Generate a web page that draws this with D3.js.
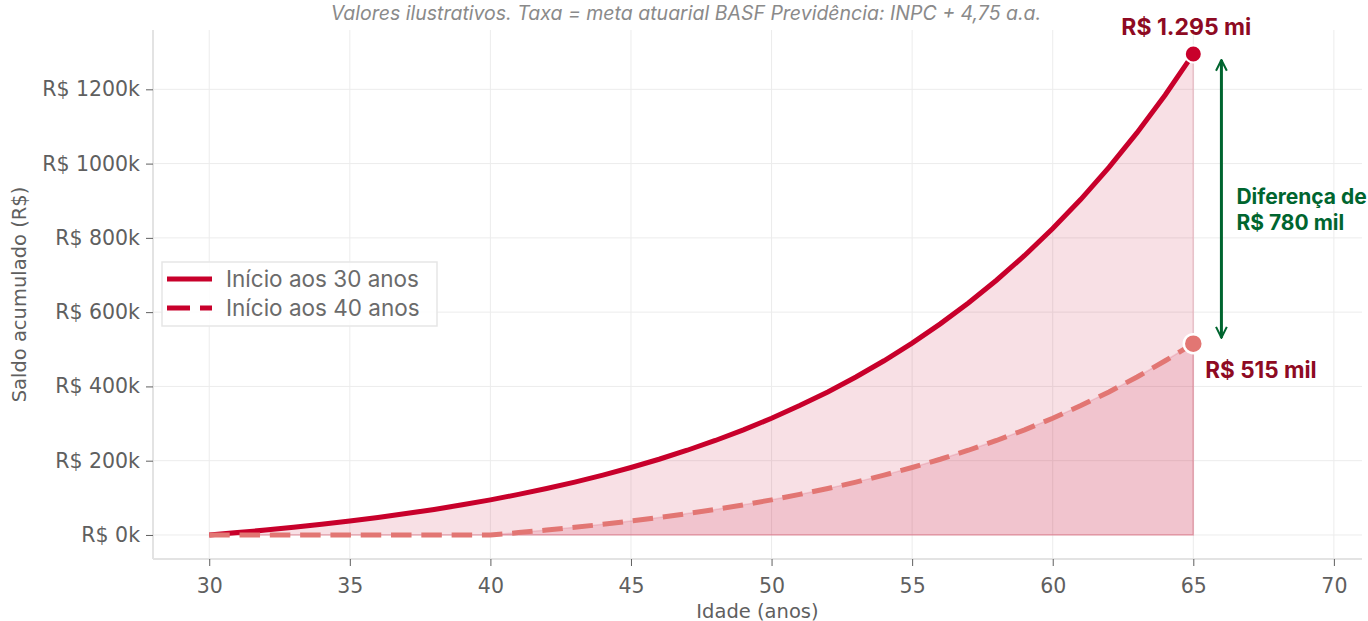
<!DOCTYPE html>
<html>
<head>
<meta charset="utf-8">
<script src="https://cdn.jsdelivr.net/npm/d3@7"></script>
<style>
  body { margin: 0; background: #fff; }
  svg { display: block; }
  .tick text { font-family: "DejaVu Sans", sans-serif; font-size: 20.5px; fill: #5f5f5f; }
  .tick line { stroke: #5f5f5f; }
</style>
</head>
<body>
<svg id="chart"></svg>
<script>
// idade (anos)
const ages = d3.range(30, 66);
// saldo acumulado em R$ mil, início aos 30
const saldo30 = [0, 6.3, 13.1, 20.6, 28.6, 37.5, 47.0, 57.5, 68.8, 81.1, 94.5, 109.2, 125.0, 142.3,
  161.1, 181.6, 203.9, 228.1, 254.4, 283.1, 314.3, 348.3, 385.2, 425.4, 469.1, 516.6, 568.4, 624.7,
  685.9, 752.6, 825.1, 903.9, 989.8, 1083.2, 1184.8, 1295.3];
// saldo acumulado em R$ mil, início aos 40
const saldo40 = [0, 0, 0, 0, 0, 0, 0, 0, 0, 0, 0, 6.3, 13.1, 20.6, 28.6, 37.5, 47.0, 57.5, 68.8, 81.1,
  94.5, 109.2, 125.0, 142.3, 161.1, 181.6, 203.9, 228.1, 254.4, 283.1, 314.3, 348.3, 385.2, 425.4,
  469.1, 515.0];
const xTicks = [30, 35, 40, 45, 50, 55, 60, 65, 70];
const yTicks = [0, 200, 400, 600, 800, 1000, 1200];
const seriesNames = ["Início aos 30 anos", "Início aos 40 anos"];

const W = 1368, H = 621;
const margin = { top: 30, right: 6, bottom: 62, left: 153 };
const width = W - margin.left - margin.right;
const height = H - margin.top - margin.bottom;

const red = "#c8002b", salmon = "#e27673", darkRed = "#8e0a23", green = "#00652f";

const svg = d3.select("#chart").attr("width", W).attr("height", H);
const chart = svg.append("g").attr("transform", `translate(${margin.left}, ${margin.top})`);

const x = d3.scaleLinear().domain([28, 71]).range([0, width]);
const y = d3.scaleLinear().domain([-64.75, 1359.75]).range([height, 0]);

const data = ages.map((a, i) => ({ age: a, s30: saldo30[i], s40: saldo40[i] }));

// grid
chart.append("g").selectAll("line").data(xTicks).enter().append("line")
  .attr("x1", d => x(d)).attr("x2", d => x(d)).attr("y1", 0).attr("y2", height)
  .attr("stroke", "#ececec").attr("stroke-width", 1);
chart.append("g").selectAll("line").data(yTicks).enter().append("line")
  .attr("x1", 0).attr("x2", width).attr("y1", d => y(d)).attr("y2", d => y(d))
  .attr("stroke", "#ececec").attr("stroke-width", 1);

// fills
const area30 = d3.area().x(d => x(d.age)).y0(y(0)).y1(d => y(d.s30));
const area40 = d3.area().x(d => x(d.age)).y0(y(0)).y1(d => y(d.s40));
chart.append("path").datum(data).attr("d", area30)
  .attr("fill", red).attr("fill-opacity", 0.12)
  .attr("stroke", red).attr("stroke-opacity", 0.15).attr("stroke-width", 1.5);
chart.append("path").datum(data).attr("d", area40)
  .attr("fill", red).attr("fill-opacity", 0.12)
  .attr("stroke", red).attr("stroke-opacity", 0.12).attr("stroke-width", 1.5);

// lines
const line30 = d3.line().x(d => x(d.age)).y(d => y(d.s30));
const line40 = d3.line().x(d => x(d.age)).y(d => y(d.s40));
chart.append("path").datum(data).attr("d", line30)
  .attr("fill", "none").attr("stroke", red).attr("stroke-width", 5);
chart.append("path").datum(data).attr("d", line40)
  .attr("fill", "none").attr("stroke", salmon).attr("stroke-width", 5)
  .attr("stroke-dasharray", "20.5,9.8");

// axes
const xAxis = d3.axisBottom(x).tickValues(xTicks).tickSize(7).tickPadding(12);
const yAxis = d3.axisLeft(y).tickValues(yTicks).tickSize(7).tickPadding(6)
  .tickFormat(d => `R$ ${d}k`);
const gx = chart.append("g").attr("transform", `translate(0, ${height})`).call(xAxis);
const gy = chart.append("g").call(yAxis);
[gx, gy].forEach(g => {
  g.select(".domain").attr("stroke", "#e3e3e3").attr("stroke-width", 2);
});
gy.select(".domain").attr("d", `M0,${height}V0`);
gx.select(".domain").attr("d", `M0,0H${width}`);

// end markers
const last = data[data.length - 1];
chart.append("circle").attr("cx", x(last.age)).attr("cy", y(last.s30)).attr("r", 8.5)
  .attr("fill", red).attr("stroke", "#fff").attr("stroke-width", 2);
chart.append("circle").attr("cx", x(last.age)).attr("cy", y(last.s40)).attr("r", 9.5)
  .attr("fill", salmon).attr("stroke", "#fff").attr("stroke-width", 2.5);

chart.append("text").attr("x", x(last.age) - 7).attr("y", y(last.s30) - 19)
  .attr("text-anchor", "middle")
  .style("font-family", "Inter, sans-serif").style("font-weight", 700).style("font-size", "23px")
  .attr("fill", darkRed).text("R$ 1.295 mi");
chart.append("text").attr("x", x(last.age) + 12).attr("y", y(last.s40) + 34)
  .style("font-family", "Inter, sans-serif").style("font-weight", 700).style("font-size", "22.5px")
  .attr("fill", darkRed).text("R$ 515 mil");

// difference arrow
const ax = x(66);
const defs = svg.append("defs");
defs.append("marker").attr("id", "head").attr("viewBox", "0 0 10 10")
  .attr("refX", 9).attr("refY", 5).attr("markerWidth", 4.5).attr("markerHeight", 4.5)
  .attr("markerUnits", "strokeWidth").attr("orient", "auto-start-reverse")
  .append("path").attr("d", "M1,1 L9,5 L1,9").attr("fill", "none")
  .attr("stroke", green).attr("stroke-width", 1.5);
chart.append("line").attr("x1", ax).attr("x2", ax)
  .attr("y1", y(last.s30) + 6).attr("y2", y(last.s40) - 6)
  .attr("stroke", green).attr("stroke-width", 3)
  .attr("marker-start", "url(#head)").attr("marker-end", "url(#head)");
const diff = chart.append("text").attr("x", ax + 15).attr("y", y((last.s30 + last.s40) / 2) + 5)
  .style("font-family", "Inter, sans-serif").style("font-weight", 700).style("font-size", "21px")
  .attr("fill", green);
diff.append("tspan").attr("x", ax + 15).attr("dy", 0).text("Diferença de");
diff.append("tspan").attr("x", ax + 15).attr("dy", 26).text("R$ 780 mil");

// legend
const lg = chart.append("g").attr("transform", `translate(9, 232)`);
lg.append("rect").attr("width", 275).attr("height", 64).attr("fill", "#fff")
  .attr("fill-opacity", 0.85).attr("stroke", "#e6e6e6").attr("stroke-width", 1.5);
seriesNames.forEach((name, i) => {
  const yy = 17 + i * 29;
  lg.append("line").attr("x1", 5).attr("x2", 50).attr("y1", yy).attr("y2", yy)
    .attr("stroke", red).attr("stroke-width", 5)
    .attr("stroke-dasharray", i === 0 ? null : "23,10");
  lg.append("text").attr("x", 64).attr("y", yy).attr("dy", "0.35em")
    .style("font-family", "Inter, sans-serif").style("font-size", "22.5px")
    .attr("fill", "#6b6b6b").text(name);
});

// labels
chart.append("text").attr("x", width / 2).attr("y", height + 59)
  .attr("text-anchor", "middle")
  .style("font-family", "DejaVu Sans, sans-serif").style("font-size", "19.5px")
  .attr("fill", "#5f5f5f").text("Idade (anos)");
chart.append("text").attr("transform", "rotate(-90)")
  .attr("x", -height / 2).attr("y", -margin.left + 26)
  .attr("text-anchor", "middle")
  .style("font-family", "DejaVu Sans, sans-serif").style("font-size", "19.5px")
  .attr("fill", "#5f5f5f").text("Saldo acumulado (R$)");

svg.append("text").attr("x", 686).attr("y", 20).attr("text-anchor", "middle")
  .style("font-family", "Inter, sans-serif").style("font-style", "italic").style("font-size", "19.5px")
  .attr("fill", "#8a8a8a").text("Valores ilustrativos. Taxa = meta atuarial BASF Previdência: INPC + 4,75 a.a.");
</script>
</body>
</html>
